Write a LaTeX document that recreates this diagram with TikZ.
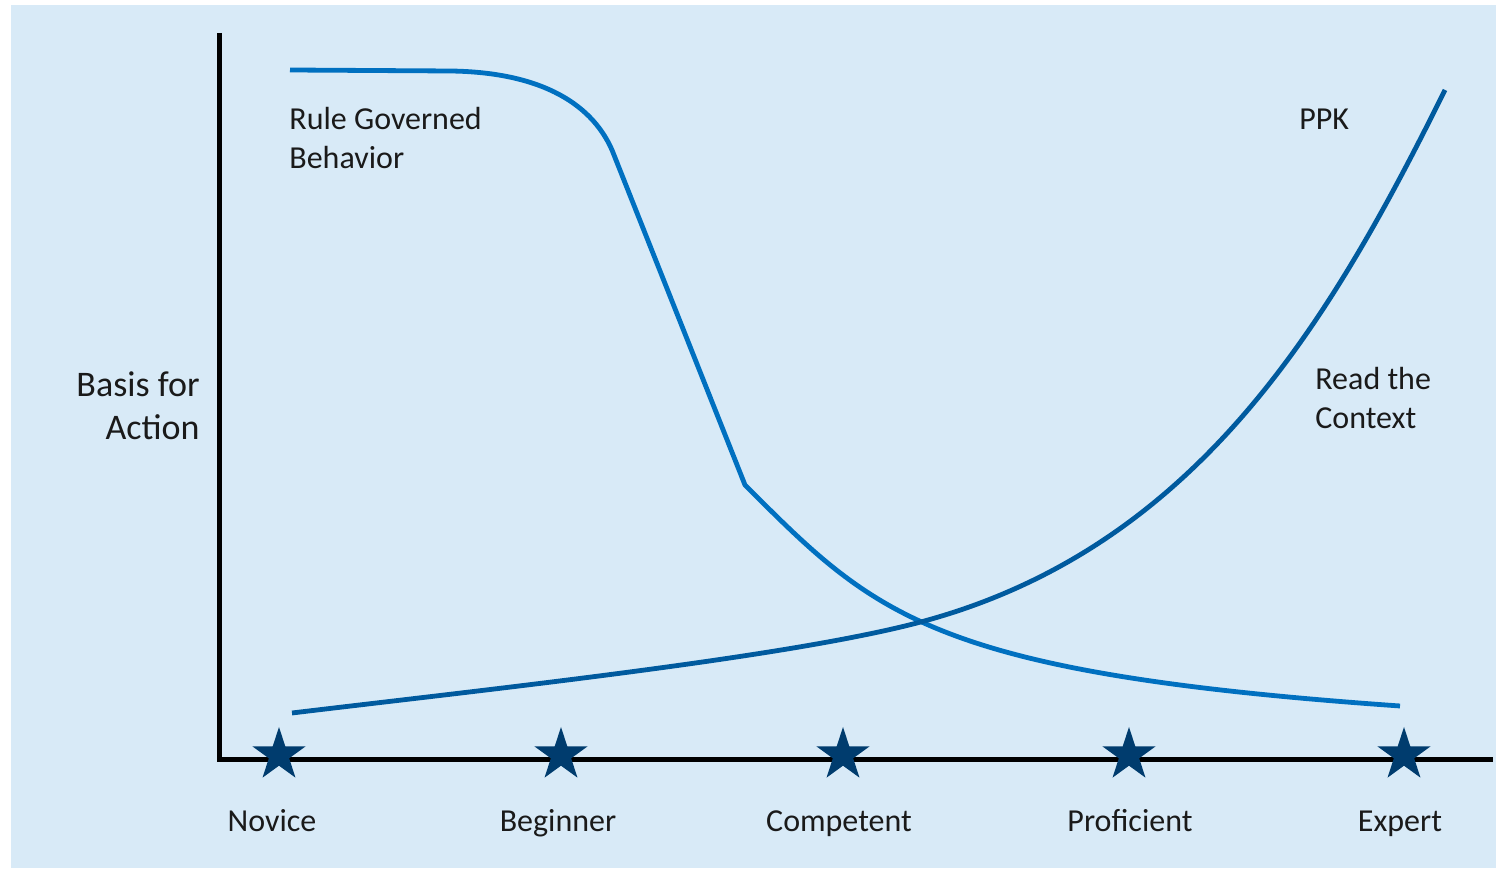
\documentclass[tikz,border=0pt]{standalone}
\usepackage{fontspec}
\setmainfont{Carlito}
\usetikzlibrary{shapes.geometric}
\definecolor{bgblue}{HTML}{D8EAF7}
\definecolor{rulecol}{HTML}{0070C0}
\definecolor{ppkcol}{HTML}{005A9E}
\definecolor{starcol}{HTML}{003C6E}
\definecolor{txt}{HTML}{1A1A1A}
\tikzset{
  lbl/.style={font=\fontsize{16pt}{19.5pt}\selectfont, text=txt, inner sep=0pt, align=left},
  ylbl/.style={font=\fontsize{18pt}{21.5pt}\selectfont, text=txt, inner sep=0pt, align=right},
  axis/.style={line width=2.5pt, black},
  stage/.style={star, star points=5, star point ratio=2.618, fill=starcol, draw=none, inner sep=0pt, minimum size=28pt},
  rulecurve/.style={line width=2.4pt, rulecol, line join=round},
  ppkcurve/.style={line width=2.4pt, ppkcol, line join=round}
}
\begin{document}
\begin{tikzpicture}[x=0.5pt,y=-0.5pt]
\useasboundingbox (0,0) rectangle (1496,870);
\fill[bgblue] (11,5) rectangle (1496,868);
% axes
\coordinate (ytop) at (219,33);
\coordinate (origin) at (219,760);
\coordinate (xend) at (1493,760);
\draw[axis, line join=miter] (ytop) -- (origin) -- (xend);
% rule governed curve
\draw[rulecurve] (290,70) -- (450,71) .. controls (535,72) and (590,100) .. (612,150) -- (745,485)
  .. controls (875,615) and (930,673) .. (1400,706);
% PPK curve
\draw[ppkcurve] (292,713) .. controls (500,688) and (800,656) .. (928,620)
  .. controls (1200,544) and (1332,318) .. (1445,90);
% stars
\node[stage] (s1) at (279,755) {};
\node[stage] (s2) at (561,755) {};
\node[stage] (s3) at (843,755) {};
\node[stage] (s4) at (1129,755) {};
\node[stage] (s5) at (1404,755) {};
% stage labels
\node[lbl, anchor=base] (l1) at (272,832) {Novice};
\node[lbl, anchor=base] (l2) at (558,832) {Beginner};
\node[lbl, anchor=base] (l3) at (839,832) {Competent};
\node[lbl, anchor=base] (l4) at (1130,832) {Proficient};
\node[lbl, anchor=base] (l5) at (1400,832) {Expert};
% curve labels
\node[lbl, anchor=base west] (rg) at (289,169) {Rule Governed\\Behavior};
\node[lbl, anchor=base west] (ppk) at (1299,130) {PPK};
\node[lbl, anchor=base west] (rc) at (1315,429) {Read the\\Context};
\node[ylbl, anchor=base east] (ba) at (200,440) {Basis for\\Action};
\end{tikzpicture}
\end{document}
